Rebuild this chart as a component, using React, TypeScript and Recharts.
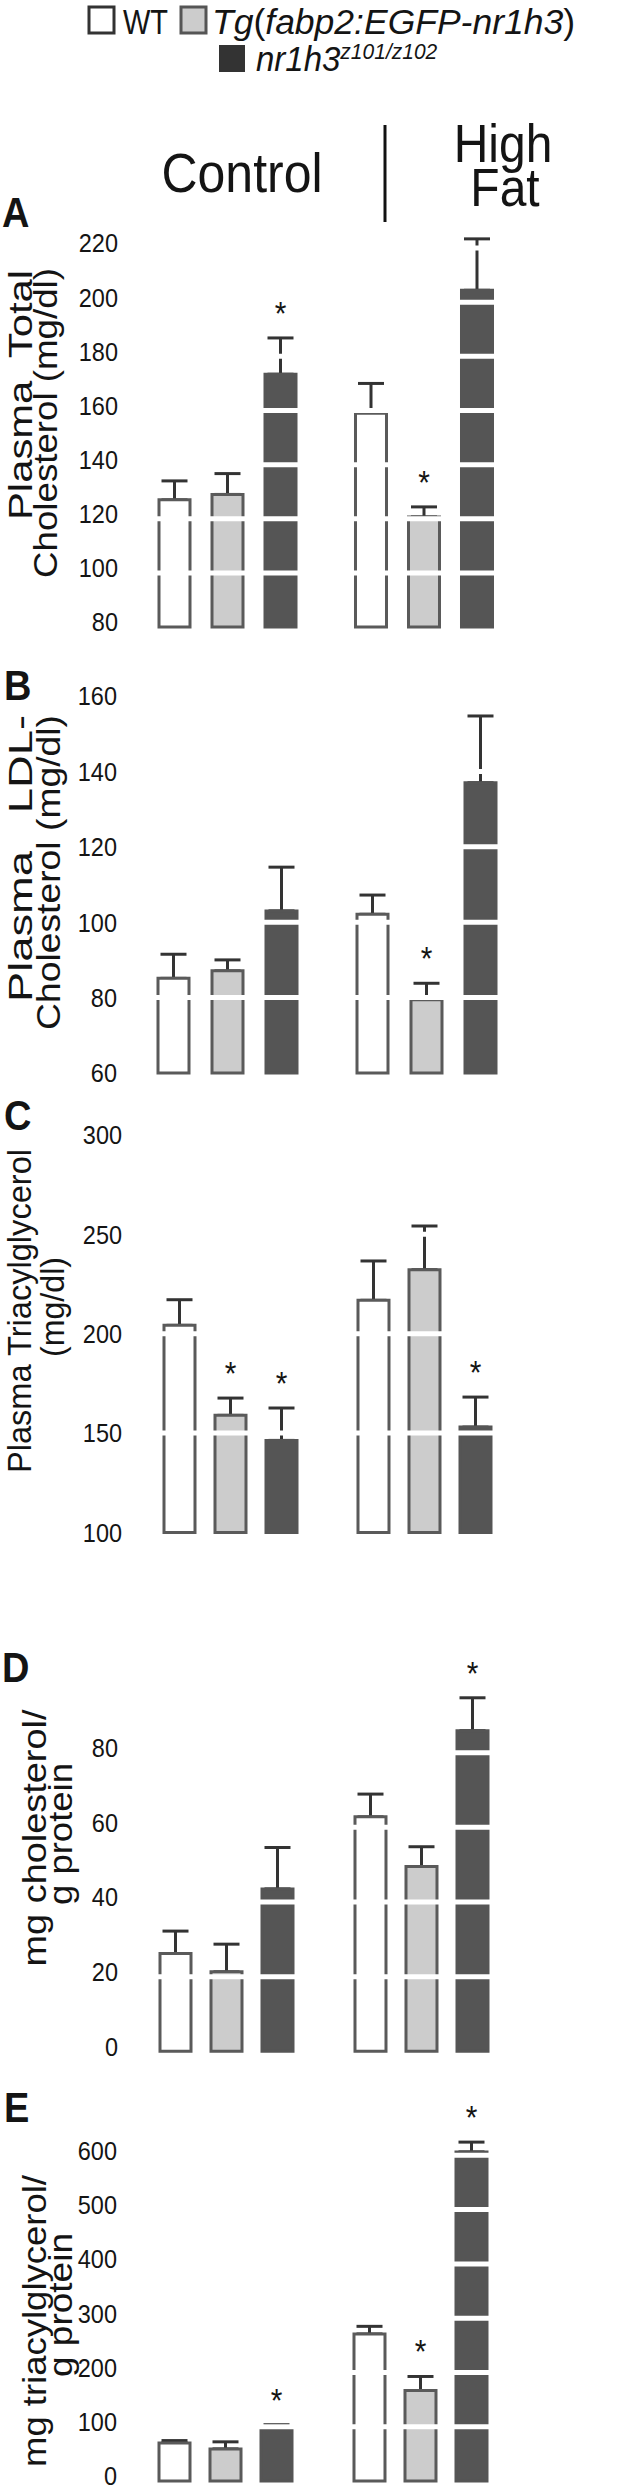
import { Bar, BarChart, ErrorBar, LabelList, ReferenceLine, XAxis, YAxis } from "recharts";

const FONT = '"Liberation Sans", Arial, sans-serif';
// the figure was scaled taller than wide, so its text looks stretched vertically
const STRETCH = 1.12;

const groups = ["Control", "High Fat"];

// A: plasma total cholesterol (mg/dl)
const totalCholWT = [127, 159];
const totalCholWTErr = [7, 11];
const totalCholTg = [129, 120.7];
const totalCholTgErr = [7.7, 3.7];
const totalCholKO = [173.4, 204.4];
const totalCholKOErr = [13.4, 19];
const totalCholSig = { wt: [false, false], tg: [false, true], ko: [true, false] };
const totalCholTicks = [80, 100, 120, 140, 160, 180, 200, 220];

// B: plasma LDL-cholesterol (mg/dl)
const ldlWT = [85.1, 102.1];
const ldlWTErr = [6.4, 5.1];
const ldlTg = [87.1, 79.4];
const ldlTgErr = [2.9, 4.4];
const ldlKO = [103, 137];
const ldlKOErr = [11.6, 17.7];
const ldlSig = { wt: [false, false], tg: [false, true], ko: [false, false] };
const ldlTicks = [60, 80, 100, 120, 140, 160];

// C: plasma triacylglycerol (mg/dl)
const plasmaTagWT = [204.2, 216.8];
const plasmaTagWTErr = [12.9, 19.8];
const plasmaTagTg = [158.9, 232.2];
const plasmaTagTgErr = [8.7, 22];
const plasmaTagKO = [146.3, 153];
const plasmaTagKOErr = [16.3, 15.1];
const plasmaTagSig = { wt: [false, false], tg: [true, false], ko: [true, true] };
const plasmaTagTicks = [100, 150, 200, 250, 300];

// D: tissue cholesterol (mg / g protein)
const tissueCholWT = [26.2, 62.8];
const tissueCholWTErr = [6, 6.1];
const tissueCholTg = [21.3, 49.5];
const tissueCholTgErr = [7.4, 5.3];
const tissueCholKO = [43.5, 85.9];
const tissueCholKOErr = [11.1, 8.8];
const tissueCholSig = { wt: [false, false], tg: [false, false], ko: [false, true] };
const tissueCholTicks = [0, 20, 40, 60, 80];

// E: tissue triacylglycerol (mg / g protein)
const tissueTagWT = [70.3, 271];
const tissueTagWTErr = [4.3, 14];
const tissueTagTg = [59.3, 166.7];
const tissueTagTgErr = [13, 26];
const tissueTagKO = [94.8, 606.3];
const tissueTagKOErr = [9, 18];
const tissueTagSig = { wt: [false, false], tg: [false, true], ko: [true, true] };
const tissueTagTicks = [0, 100, 200, 300, 400, 500, 600];

type Row = Record<string, number | string | boolean>;

const makeRows = (
  wt: number[], wtErr: number[], tg: number[], tgErr: number[],
  ko: number[], koErr: number[], sig: { wt: boolean[]; tg: boolean[]; ko: boolean[] }
): Row[] =>
  groups.map((group, i) => ({
    group,
    wt: wt[i], wtErr: wtErr[i], wtSig: sig.wt[i] ? "*" : "",
    tg: tg[i], tgErr: tgErr[i], tgSig: sig.tg[i] ? "*" : "",
    ko: ko[i], koErr: koErr[i], koSig: sig.ko[i] ? "*" : ""
  }));

const series = [
  { key: "wt", fill: "#ffffff", stroke: "#5a5a5a" },
  { key: "tg", fill: "#cccccc", stroke: "#5a5a5a" },
  { key: "ko", fill: "#555555", stroke: "#555555" }
];

interface Frame {
  top: number;
  bottom: number;
  left: number;
  right: number;
  gap: number;
  tickDy: number;
}

interface PanelProps {
  rows: Row[];
  ticks: number[];
  domain: [number, number];
  frame: Frame;
}

// horizontal text, stretched vertically like the source figure
const TallText = ({ x, y, size, anchor = "start", weight, style, stretch = STRETCH, children }: any) => (
  <g transform={`translate(${x} ${y}) scale(1 ${stretch})`}>
    <text x={0} y={0} fontSize={size} textAnchor={anchor} fontWeight={weight} fontStyle={style} fill="#141414" fontFamily={FONT}>
      {children}
    </text>
  </g>
);

const AxisTick = (props: any) => {
  const { x, y, payload, dy } = props;
  return (
    <TallText x={x} y={y + dy + 9.4} size={23.5} anchor="end">
      {payload.value}
    </TallText>
  );
};

const starContent = (rows: Row[], key: string, base: number) => (props: any) => {
  const vb = props.viewBox ?? props;
  const { x, y, width, height } = vb;
  const { index, value } = props;
  if (!value) return null;
  const row = rows[index];
  const barValue = row[key] as number;
  const pxPerUnit = height / (barValue - base);
  const capY = y - (row[`${key}Err`] as number) * pxPerUnit;
  return (
    <TallText x={x + width / 2} y={capY - 13} size={30} anchor="middle">
      *
    </TallText>
  );
};

const Panel = ({ rows, ticks, domain, frame }: PanelProps) => {
  const pad = 26;
  const plotH = frame.bottom - frame.top;
  return (
    <div style={{ position: "absolute", left: 0, top: frame.top - pad }}>
      <BarChart
        width={617}
        height={plotH + pad * 2}
        data={rows}
        margin={{ top: pad, right: 617 - frame.right, bottom: pad, left: 0 }}
        barSize={31}
        barGap={frame.gap}
        barCategoryGap={0}
      >
        <XAxis dataKey="group" hide />
        <YAxis
          type="number"
          domain={domain}
          ticks={ticks}
          interval={0}
          width={frame.left}
          axisLine={false}
          tickLine={false}
          tickSize={0}
          tickMargin={11}
          tick={(p: any) => <AxisTick {...p} dy={frame.tickDy} />}
        />
        {series.map((s) => (
          <Bar
            key={s.key}
            dataKey={s.key}
            fill={s.fill}
            stroke={s.stroke}
            strokeWidth={3}
            isAnimationActive={false}
          >
            {/* drawn beneath the bars so the lower cap hides under the bar top */}
            <ErrorBar
              dataKey={(d: any) => [0, d[`${s.key}Err`]]}
              direction="y"
              width={13}
              stroke="#333333"
              strokeWidth={3}
              isAnimationActive={false}
              zIndex={250}
            />
            <LabelList dataKey={`${s.key}Sig`} content={starContent(rows, s.key, domain[0])} />
          </Bar>
        ))}
        {ticks.slice(1).map((t) => (
          <ReferenceLine key={t} y={t} stroke="#ffffff" strokeWidth={5} zIndex={1600} />
        ))}
      </BarChart>
    </div>
  );
};

const panels: PanelProps[] = [
  {
    rows: makeRows(totalCholWT, totalCholWTErr, totalCholTg, totalCholTgErr, totalCholKO, totalCholKOErr, totalCholSig),
    ticks: totalCholTicks,
    domain: [80, 230],
    frame: { top: 220.9, bottom: 627, left: 129, right: 522, gap: 22, tickDy: -5 }
  },
  {
    rows: makeRows(ldlWT, ldlWTErr, ldlTg, ldlTgErr, ldlKO, ldlKOErr, ldlSig),
    ticks: ldlTicks,
    domain: [60, 160],
    frame: { top: 696.1, bottom: 1073.1, left: 128, right: 526, gap: 23, tickDy: 0 }
  },
  {
    rows: makeRows(plasmaTagWT, plasmaTagWTErr, plasmaTagTg, plasmaTagTgErr, plasmaTagKO, plasmaTagKOErr, plasmaTagSig),
    ticks: plasmaTagTicks,
    domain: [100, 300],
    frame: { top: 1134.6, bottom: 1532, left: 133, right: 521, gap: 20, tickDy: 0 }
  },
  {
    rows: makeRows(tissueCholWT, tissueCholWTErr, tissueCholTg, tissueCholTgErr, tissueCholKO, tissueCholKOErr, tissueCholSig),
    ticks: tissueCholTicks,
    domain: [0, 100],
    frame: { top: 1678, bottom: 2051.3, left: 129, right: 519, gap: 20, tickDy: -5 }
  },
  {
    rows: makeRows(tissueTagWT, tissueTagWTErr, tissueTagTg, tissueTagTgErr, tissueTagKO, tissueTagKOErr, tissueTagSig),
    ticks: tissueTagTicks,
    domain: [0, 700],
    frame: { top: 2101.4, bottom: 2481.5, left: 128, right: 518, gap: 20, tickDy: -5 }
  }
];

// rotated axis titles: text, length along the page, baseline x, anchor y
const yTitles = [
  { text: "Plasma  Total", len: 250, x: 32, y: 270, anchor: "end" },
  { text: "Cholesterol (mg/dl)", len: 310, x: 57, y: 268, anchor: "end" },
  { text: "Plasma   LDL-", len: 287, x: 32, y: 715, anchor: "end" },
  { text: "Cholesterol (mg/dl)", len: 315, x: 60, y: 715, anchor: "end" },
  { text: "Plasma Triacylglycerol", len: 324, x: 31, y: 1311, anchor: "middle" },
  { text: "(mg/dl)", len: 100, x: 64, y: 1307, anchor: "middle" },
  { text: "mg cholesterol/", len: 257, x: 46, y: 1838, anchor: "middle" },
  { text: "g protein", len: 142, x: 72, y: 1834, anchor: "middle" },
  { text: "mg triacylglycerol/", len: 292, x: 46, y: 2321, anchor: "middle" },
  { text: "g protein", len: 144, x: 72, y: 2305, anchor: "middle" }
];

const letters = [
  { t: "A", x: 2, y: 227 },
  { t: "B", x: 4, y: 700 },
  { t: "C", x: 4, y: 1130 },
  { t: "D", x: 2, y: 1682 },
  { t: "E", x: 4, y: 2122 }
];

export default function App() {
  return (
    <div style={{ position: "absolute", left: 0, top: 0, width: 617, height: 2489, background: "#fff" }}>
      <svg width={617} height={2489} style={{ position: "absolute", left: 0, top: 0 }} fontFamily={FONT}>
        {/* legend */}
        <rect x={89} y={7} width={25} height={26} fill="#fff" stroke="#333" strokeWidth={3} />
        <TallText x={123} y={34} size={29} stretch={1.2}>WT</TallText>
        <rect x={181} y={7} width={25} height={26} fill="#cccccc" stroke="#555" strokeWidth={3} />
        <text x={212} y={34} fontSize={35.5} fill="#141414">
          <tspan fontStyle="italic">Tg</tspan>(<tspan fontStyle="italic">fabp2:EGFP-nr1h3</tspan>)
        </text>
        <rect x={219} y={45} width={26} height={27} fill="#333333" />
        <TallText x={256} y={71} size={33} style="italic" stretch={1.08}>
          nr1h3<tspan fontSize={21} dy={-11}>z101/z102</tspan>
        </TallText>

        {/* diet headers */}
        <TallText x={242} y={192} size={50} anchor="middle">Control</TallText>
        <line x1={385} y1={125} x2={385} y2={222} stroke="#111" strokeWidth={3} />
        <g transform={`translate(503 162) scale(1 ${STRETCH})`}>
          <text fontSize={48} textAnchor="middle" fill="#141414" fontFamily={FONT}>
            <tspan x={0} y={0}>High</tspan>
            <tspan x={2} y={44 / STRETCH}>Fat</tspan>
          </text>
        </g>

        {letters.map((l) => (
          <TallText key={l.t} x={l.x} y={l.y} size={38} weight="bold">{l.t}</TallText>
        ))}

        {yTitles.map((yt, i) => (
          <text
            key={i}
            x={yt.x}
            y={yt.y}
            transform={`rotate(-90 ${yt.x} ${yt.y})`}
            textAnchor={yt.anchor as any}
            fontSize={33}
            fill="#141414"
            fontFamily={FONT}
            textLength={yt.len}
            lengthAdjust="spacingAndGlyphs"
            style={{ whiteSpace: "pre" }}
          >
            {yt.text}
          </text>
        ))}
      </svg>
      {panels.map((p, i) => (
        <Panel key={i} {...p} />
      ))}
    </div>
  );
}
